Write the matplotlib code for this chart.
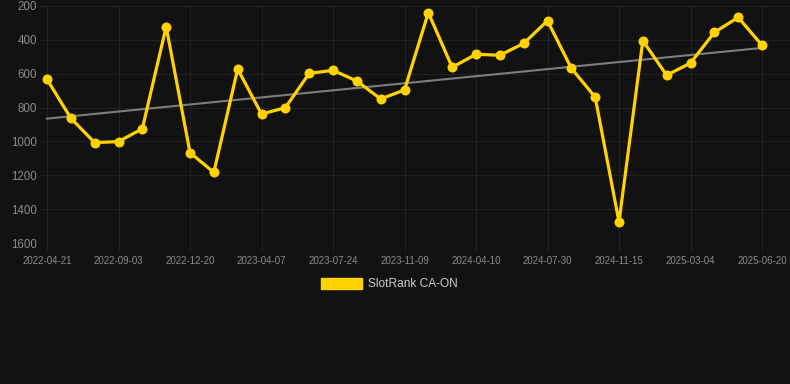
import numpy as np
import matplotlib
matplotlib.use("Agg")
import matplotlib.pyplot as plt
from matplotlib.patches import Rectangle

#----- Data -----------------------------------------------------------------------------------

rank = [633, 863, 1007, 1001, 925, 322, 1066, 1183, 572, 838, 801,
        598, 580, 643, 749, 696, 239, 562, 485, 491, 421,
        287, 568, 738, 1476, 405, 609, 537, 356, 267, 432]
tick_labels = ["2022-04-21", "2022-09-03", "2022-12-20", "2023-04-07", "2023-07-24",
               "2023-11-09", "2024-04-10", "2024-07-30", "2024-11-15", "2025-03-04",
               "2025-06-20"]
series_name = "SlotRank CA-ON"

#----- Style ----------------------------------------------------------------------------------

bg = "#121212"
grid_col = "#222222"
txt_col = "#8c8c8c"
yellow = "#FFD200"
plt.rcParams['font.family'] = ['Liberation Sans', 'DejaVu Sans']

W, H = 790, 384
fig = plt.figure(figsize=(W / 100, H / 100), dpi=100, facecolor=bg)
# plot area in pixels: left 40, right 790, top 6, bottom 243
ax = fig.add_axes([40 / W, 1 - 243 / H, 750 / W, 237 / H], facecolor=bg)

x = np.arange(len(rank))
step = (762 - 47) / (len(rank) - 1)
ax.set_xlim(-(47 - 40) / step, len(rank) - 1 + (790 - 762) / step)
ax.set_ylim(1600, 200)

# trend line
k, b = np.polyfit(x, rank, 1)
ax.plot(x, k * x + b, color="#7d7d7d", lw=1.5, zorder=2)

ax.plot(x, rank, color=yellow, lw=2.3, marker="o", markersize=7.2,
        markeredgewidth=0, zorder=3)

ax.set_yticks(np.arange(200, 1601, 200))
ax.set_xticks(x[::3])
ax.set_xticklabels(tick_labels)
ax.grid(True, color=grid_col, lw=0.8)
ax.set_axisbelow(True)
for s in ax.spines.values():
    s.set_visible(False)
ax.tick_params(axis="y", length=0, pad=2, labelsize=8.3, labelcolor=txt_col)
ax.tick_params(axis="x", length=6, color=grid_col, pad=3, labelsize=7, labelcolor=txt_col)

# legend
fig.patches.append(Rectangle((321 / W, 1 - 289 / H), 41 / W, 11 / H,
                             transform=fig.transFigure, color=yellow))
fig.text(368 / W, 1 - 284 / H, series_name, color="#cccccc", fontsize=8.6,
         va="center", ha="left")

fig.savefig("out.png", dpi=100, facecolor=bg)
